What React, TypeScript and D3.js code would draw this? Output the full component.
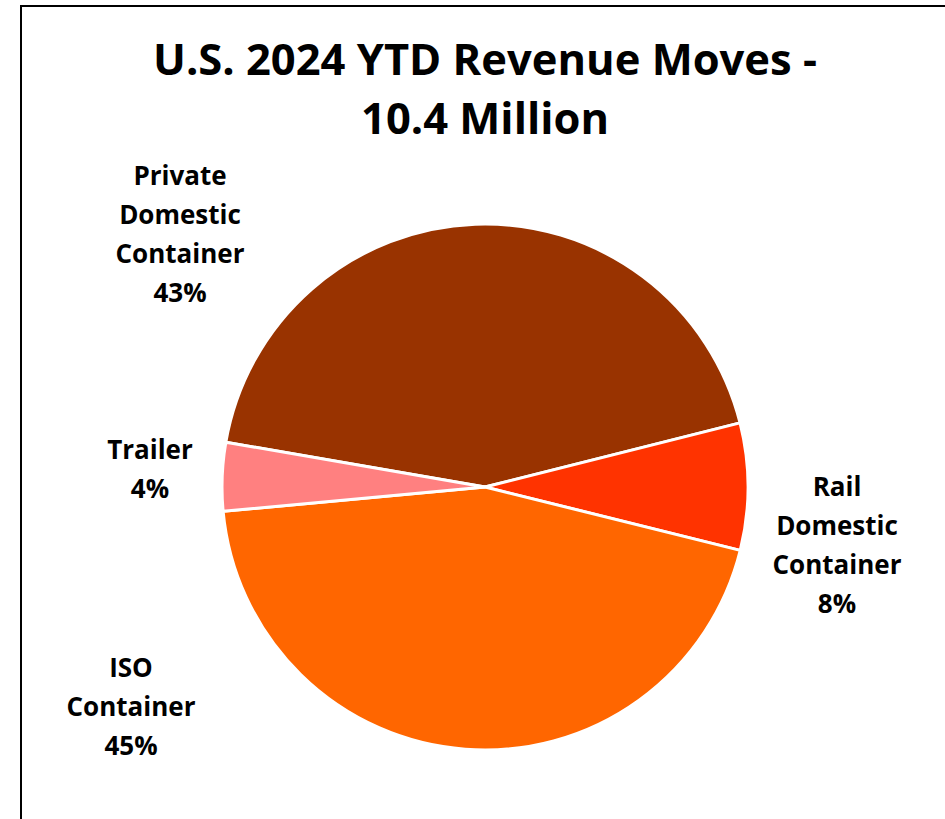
import React, { useEffect, useRef } from 'react';
import * as d3 from 'd3';

// slice data, in drawing order (clockwise from the first slice)
const categories = ['Private Domestic Container', 'Rail Domestic Container', 'ISO Container', 'Trailer'];
const shares = [43.4, 7.8, 44.7, 4.2];
const colors = ['#993300', '#FF3300', '#FF6600', '#FF8080'];
const labelLines = [
  ['Private', 'Domestic', 'Container'],
  ['Rail', 'Domestic', 'Container'],
  ['ISO', 'Container'],
  ['Trailer'],
];
const titleLines = ['U.S. 2024 YTD Revenue Moves -', '10.4 Million'];

const W = 945;
const H = 819;
const FONT = '"Open Sans", Lato, sans-serif';

// where Excel put each label block (centre x, first-line centre y)
const labelPos = [
  { x: 180, y: 176 },
  { x: 837, y: 487 },
  { x: 131, y: 668 },
  { x: 150, y: 450 },
];

const App = () => {
  const svgRef = useRef<SVGSVGElement>(null);

  useEffect(() => {
    const svg = d3.select(svgRef.current);
    svg.selectAll('*').remove();

    const cx = 485;
    const cy = 487;
    const r = 263;
    const start = (-80.2 * Math.PI) / 180;

    // chart frame (right and bottom edges run off the picture)
    svg.append('rect')
      .attr('x', 21)
      .attr('y', 6)
      .attr('width', W)
      .attr('height', H + 20)
      .attr('fill', '#fff')
      .attr('stroke', '#000')
      .attr('stroke-width', 2);

    // title
    svg.append('g')
      .selectAll('text')
      .data(titleLines)
      .join('text')
      .attr('x', 485)
      .attr('y', (d, i) => 75 + i * 59)
      .attr('text-anchor', 'middle')
      .attr('font-family', FONT)
      .attr('font-weight', 'bold')
      .attr('font-size', 43.5)
      .attr('fill', '#000')
      .text(d => d);

    const pie = d3.pie<number>()
      .sort(null)
      .value(d => d)
      .startAngle(start)
      .endAngle(start + 2 * Math.PI);

    const arc = d3.arc<d3.PieArcDatum<number>>()
      .innerRadius(0)
      .outerRadius(r);

    const arcs = pie(shares);
    const total = d3.sum(shares);

    svg.append('g')
      .attr('transform', `translate(${cx},${cy})`)
      .selectAll('path')
      .data(arcs)
      .join('path')
      .attr('d', arc)
      .attr('fill', (d, i) => colors[i])
      .attr('stroke', '#fff')
      .attr('stroke-width', 3)
      .attr('stroke-linejoin', 'round');

    // data labels
    arcs.forEach((a, i) => {
      const lines = [...labelLines[i], `${Math.round((a.data / total) * 100)}%`];
      const g = svg.append('g').attr('aria-label', categories[i]);
      lines.forEach((t, j) => {
        g.append('text')
          .attr('x', labelPos[i].x)
          .attr('y', labelPos[i].y + j * 39)
          .attr('dy', '0.36em')
          .attr('text-anchor', 'middle')
          .attr('font-family', FONT)
          .attr('font-weight', 'bold')
          .attr('font-size', 26)
          .attr('fill', '#000')
          .text(t);
      });
    });
  }, []);

  return (
    <div style={{ position: 'absolute', left: 0, top: 0 }}>
      <svg ref={svgRef} width={W} height={H} style={{ display: 'block' }}></svg>
    </div>
  );
};

export default App;
